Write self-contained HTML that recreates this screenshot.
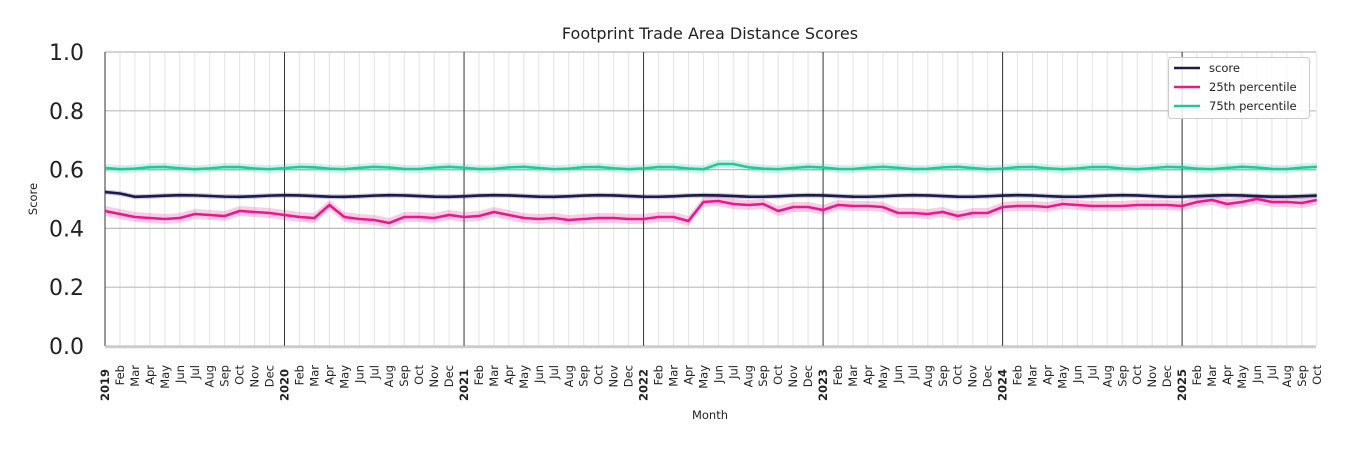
<!DOCTYPE html>
<html><head><meta charset="utf-8"><style>
html,body{margin:0;padding:0;background:#fff;}
svg{display:block;font-family:"DejaVu Sans","Liberation Sans",sans-serif;}
</style></head><body>
<svg id="c" width="1350" height="450" xmlns="http://www.w3.org/2000/svg"></svg>
<script>
const s=document.getElementById('c');let h='';
const X0=105,DX=14.96,Y0=346,YS=294;
const x=i=>X0+i*DX;
const names=['Jan','Feb','Mar','Apr','May','Jun','Jul','Aug','Sep','Oct','Nov','Dec'];
h+='<text x="710" y="39" font-size="16" text-anchor="middle" fill="#222">Footprint Trade Area Distance Scores</text>';
for(let i=0;i<82;i++){h+=`<line x1="${x(i)}" y1="52" x2="${x(i)}" y2="346" stroke="#e4e4e4" stroke-width="1"/>`;}
for(let k=0;k<=5;k++){const y=Y0-k*0.2*YS;h+=`<line x1="105" y1="${y}" x2="1316" y2="${y}" stroke="#bbb" stroke-width="1.2"/>`;
h+=`<text x="84" y="${y+8}" font-size="22" text-anchor="end" fill="#222">${(k*0.2).toFixed(1)}</text>`;}
for(let yr=1;yr<=6;yr++){h+=`<line x1="${x(yr*12)}" y1="52" x2="${x(yr*12)}" y2="346" stroke="#333" stroke-width="1"/>`;}
h+='<line x1="105" y1="52" x2="105" y2="346" stroke="#333" stroke-width="1"/>';
h+='<line x1="105" y1="347" x2="1316" y2="347" stroke="#ccc" stroke-width="2.5"/>';
const p25=[211,214,217,218,219,218,214,215,216,211,212,213,215,217,218,205,217,219,220,223,217,217,218,215,217,216,212,215,218,219,218,220,219,218,218,219,219,217,217,221,202,201,204,205,204,211,207,207,210,205,206,206,207,213,213,214,212,216,213,213,207,206,206,207,204,205,206,206,206,205,205,205,206,202,200,204,202,199,202,202,203,200];
const sc=[],p75=[];
for(let i=0;i<82;i++){sc.push(196+Math.sin(i*0.9)*0.8);p75.push(i==41||i==42?164:168+Math.sin(i*1.3)*1.2);}
sc[0]=192;sc[1]=193.5;
function band(a,w,col){let t=a.map((v,i)=>`${x(i)},${v-w}`).join(' ');let b=a.map((v,i)=>`${x(i)},${v+w}`).reverse().join(' ');h+=`<polygon points="${t} ${b}" fill="${col}" opacity="0.22"/>`;}
function line(a,col){h+=`<polyline points="${a.map((v,i)=>x(i)+','+v).join(' ')}" fill="none" stroke="${col}" stroke-width="2.6"/>`;}
band(p75,4,'#20c997');band(p25,5,'#e8198b');band(sc,2.5,'#1a1a4e');
line(p75,'#20c997');line(p25,'#e8198b');line(sc,'#1a1a4e');
for(let i=0;i<82;i++){const m=i%12;const yr=2019+Math.floor(i/12);const lab=m==0?yr:names[m];const bold=m==0?'font-weight="bold"':'';
h+=`<text transform="translate(${x(i)+4},${m==0?369:365}) rotate(-90)" font-size="11.5" text-anchor="end" ${bold} fill="#222">${lab}</text>`;}
h+='<text x="710" y="419" font-size="11.5" text-anchor="middle" fill="#222">Month</text>';
h+='<text transform="translate(37,199) rotate(-90)" font-size="11.5" text-anchor="middle" fill="#222">Score</text>';
h+='<rect x="1168.5" y="57.5" width="141" height="61" rx="3" fill="#fff" fill-opacity="0.85" stroke="#ccc"/>';
[['score','#1a1a4e'],['25th percentile','#e8198b'],['75th percentile','#20c997']].forEach((d,k)=>{const y=68+k*19;
h+=`<line x1="1174" y1="${y}" x2="1200" y2="${y}" stroke="${d[1]}" stroke-width="2.6"/><text x="1209" y="${y+4}" font-size="11.5" fill="#222">${d[0]}</text>`;});
s.innerHTML=h;
</script>
</body></html>
